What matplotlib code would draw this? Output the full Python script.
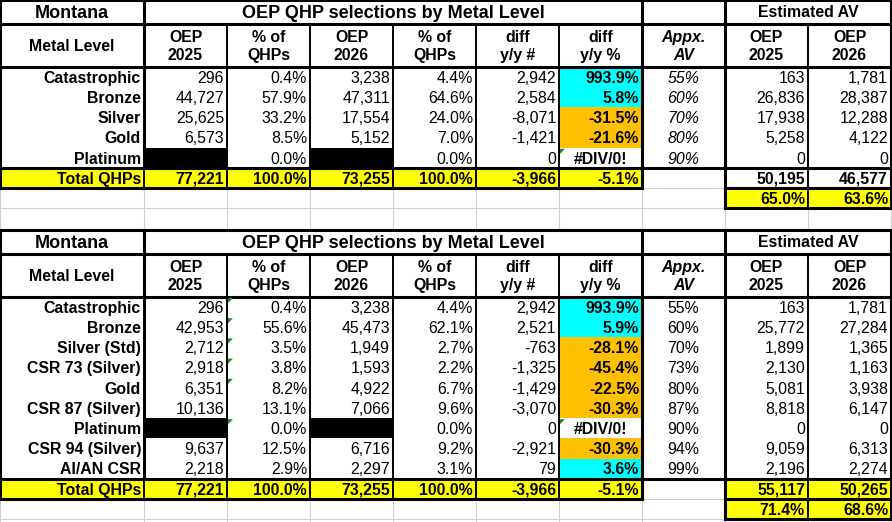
import matplotlib.pyplot as plt
from matplotlib.patches import Rectangle, Polygon

plt.rcParams['font.family'] = ['Liberation Sans', 'DejaVu Sans']

# ---- table 1 : simple metal levels ----
levels_1 = ['Catastrophic', 'Bronze', 'Silver', 'Gold', 'Platinum']
oep25_1 = [296, 44727, 25625, 6573, None]
pct25_1 = [0.4, 57.9, 33.2, 8.5, 0.0]
oep26_1 = [3238, 47311, 17554, 5152, None]
pct26_1 = [4.4, 64.6, 24.0, 7.0, 0.0]
diff_1 = [2942, 2584, -8071, -1421, 0]
diffpct_1 = [993.9, 5.8, -31.5, -21.6, None]
appx_av_1 = [55, 60, 70, 80, 90]
est25_1 = [163, 26836, 17938, 5258, 0]
est26_1 = [1781, 28387, 12288, 4122, 0]
totals_1 = [77221, 100.0, 73255, 100.0, -3966, -5.1, 50195, 46577]
av_share_1 = [65.0, 63.6]

# ---- table 2 : with CSR breakout ----
levels_2 = ['Catastrophic', 'Bronze', 'Silver (Std)', 'CSR 73 (Silver)', 'Gold',
            'CSR 87 (Silver)', 'Platinum', 'CSR 94 (Silver)', 'AI/AN CSR']
oep25_2 = [296, 42953, 2712, 2918, 6351, 10136, None, 9637, 2218]
pct25_2 = [0.4, 55.6, 3.5, 3.8, 8.2, 13.1, 0.0, 12.5, 2.9]
oep26_2 = [3238, 45473, 1949, 1593, 4922, 7066, None, 6716, 2297]
pct26_2 = [4.4, 62.1, 2.7, 2.2, 6.7, 9.6, 0.0, 9.2, 3.1]
diff_2 = [2942, 2521, -763, -1325, -1429, -3070, 0, -2921, 79]
diffpct_2 = [993.9, 5.9, -28.1, -45.4, -22.5, -30.3, None, -30.3, 3.6]
appx_av_2 = [55, 60, 70, 73, 80, 87, 90, 94, 99]
est25_2 = [163, 25772, 1899, 2130, 5081, 8818, 0, 9059, 2196]
est26_2 = [1781, 27284, 1365, 1163, 3938, 6147, 0, 6313, 2274]
totals_2 = [77221, 100.0, 73255, 100.0, -3966, -5.1, 55117, 50265]
av_share_2 = [71.4, 68.6]

header_top = ['OEP', '% of', 'OEP', '% of', 'diff', 'diff', 'Appx.', 'OEP', 'OEP']
header_bot = ['2025', 'QHPs', '2026', 'QHPs', 'y/y #', 'y/y %', 'AV', '2025', '2026']

col_x = [0, 144, 227, 310, 393, 476, 559, 642, 725, 808, 891]
TITLE_H = 23.5
HEAD_H = 43.5
ROW_H = 20.2
FS = 11.4
FS_TITLE = 13
PX = 100 / 72

CYAN = '#00FFFF'
ORANGE = '#FFC000'
YELLOW = '#FFFF00'
GRID = '#D0D0D0'
THIN = 1.4
THICK = 2.2

fig = plt.figure(figsize=(8.92, 5.22), dpi=100)
ax = fig.add_axes([0, 0, 1, 1])
ax.set_xlim(0, 892)
ax.set_ylim(522, 0)
ax.axis('off')


def put(x, y_top, h, s, ha='right', bold=False, italic=False, fs=FS):
    yb = y_top + h / 2 + fs * PX * 0.716 / 2
    ax.text(x, yb, s, ha=ha, va='baseline', fontsize=fs,
            fontweight='bold' if bold else 'normal',
            fontstyle='italic' if italic else 'normal', zorder=5)


def cell(col, y_top, s, ha='right', bold=False, italic=False, h=ROW_H):
    x0, x1 = col_x[col], col_x[col + 1]
    if ha == 'right':
        x = x1 - 3
    else:
        x = (x0 + x1) / 2
    put(x, y_top, h, s, ha=ha, bold=bold, italic=italic)


def fill(x0, x1, y0, y1, color):
    ax.add_patch(Rectangle((x0, y0), x1 - x0, y1 - y0, facecolor=color,
                           edgecolor='none', zorder=2))


def hline(y, x0, x1, lw):
    ax.plot([x0, x1], [y, y], color='black', lw=lw, zorder=4,
            solid_capstyle='projecting')


def vline(x, y0, y1, lw):
    ax.plot([x, x], [y0, y1], color='black', lw=lw, zorder=4,
            solid_capstyle='projecting')


def tri(x, y):
    # excel's little green error marker
    ax.add_patch(Polygon([(x + 1, y + 1), (x + 6, y + 1), (x + 1, y + 6)],
                         facecolor='#1F8A1F', edgecolor='none', zorder=6))


def draw_table(y0, levels, o25, p25, o26, p26, d, dp, av, e25, e26,
               totals, share, av_italic, av_total_yellow, pct_flags):
    n = len(levels)
    head = y0 + TITLE_H
    data = head + HEAD_H
    tot = data + n * ROW_H
    extra = tot + ROW_H
    end = extra + ROW_H

    fill(0, 891, y0, tot + ROW_H, 'white')

    # title row
    put(72, y0, TITLE_H, 'Montana', ha='center', bold=True, fs=FS_TITLE)
    put(393, y0, TITLE_H, 'OEP QHP selections by Metal Level', ha='center',
        bold=True, fs=FS_TITLE)
    put(808, y0, TITLE_H, 'Estimated AV', ha='center', bold=True)

    # header row
    put(72, head, HEAD_H, 'Metal Level', ha='center', bold=True)
    for j in range(9):
        xc = (col_x[j + 1] + col_x[j + 2]) / 2
        it = header_top[j] == 'Appx.'
        put(xc, head - 8.7, HEAD_H, header_top[j], ha='center', bold=True, italic=it)
        put(xc, head + 8.7, HEAD_H, header_bot[j], ha='center', bold=True, italic=it)

    # data rows
    for i in range(n):
        yt = data + i * ROW_H
        cell(0, yt, levels[i], bold=True)
        if o25[i] is None:
            fill(col_x[1], col_x[2], yt, yt + ROW_H, 'black')
        else:
            cell(1, yt, f'{o25[i]:,}')
        cell(2, yt, f'{p25[i]:.1f}%')
        if o26[i] is None:
            fill(col_x[3], col_x[4], yt, yt + ROW_H, 'black')
        else:
            cell(3, yt, f'{o26[i]:,}')
        cell(4, yt, f'{p26[i]:.1f}%')
        cell(5, yt, f'{d[i]:,}')
        if dp[i] is None:
            cell(6, yt, '#DIV/0!', ha='center', bold=True)
            tri(col_x[6], yt)
        else:
            fill(col_x[6], col_x[7], yt, yt + ROW_H, CYAN if dp[i] > 0 else ORANGE)
            cell(6, yt, f'{dp[i]:.1f}%', bold=True)
        cell(7, yt, f'{av[i]}%', ha='center', italic=av_italic)
        cell(8, yt, f'{e25[i]:,}')
        cell(9, yt, f'{e26[i]:,}')
        if pct_flags[i]:
            tri(col_x[2], yt)

    # total row
    fill(0, 642, tot, extra, YELLOW)
    if av_total_yellow:
        fill(725, 891, tot, extra, YELLOW)
    cell(0, tot, 'Total QHPs', bold=True)
    cell(1, tot, f'{totals[0]:,}', bold=True)
    cell(2, tot, f'{totals[1]:.1f}%', bold=True)
    cell(3, tot, f'{totals[2]:,}', bold=True)
    cell(4, tot, f'{totals[3]:.1f}%', bold=True)
    cell(5, tot, f'{totals[4]:,}', bold=True)
    cell(6, tot, f'{totals[5]:.1f}%', bold=True)
    cell(8, tot, f'{totals[6]:,}', bold=True)
    cell(9, tot, f'{totals[7]:,}', bold=True)

    # AV share row
    fill(725, 891, extra, end, YELLOW)
    cell(8, extra, f'{share[0]:.1f}%', bold=True)
    cell(9, extra, f'{share[1]:.1f}%', bold=True)

    # borders
    hline(y0, 0, 891, THICK)
    hline(head, 0, 891, THICK)
    for x in [0, 144, 642, 725, 891]:
        vline(x, y0, head, THICK)
    hline(data, 0, 891, THICK)
    thick_cols = {0, 144, 642, 725, 891}
    for x in col_x:
        vline(x, head, tot, THICK if x in thick_cols else THIN)
    hline(tot, 0, 891, THICK)
    for x in col_x:
        if x in (0, 642, 725, 891):
            vline(x, tot, extra, THICK)
        else:
            vline(x, tot, extra, THIN)
    hline(extra, 0, 642, THICK)
    hline(extra, 725, 891, THICK)
    hline(end, 725, 891, THICK)
    vline(725, extra, end, THICK)
    vline(891, extra, end, THICK)
    vline(808, extra, end, THIN)
    return end


# light spreadsheet gridlines behind everything
for x in col_x:
    ax.plot([x, x], [0, 522], color=GRID, lw=0.8, zorder=1)
for y in [188.2, 208.4, 230, 499.0, 519.2]:
    ax.plot([0, 892], [y, y], color=GRID, lw=0.8, zorder=1)

flags_1 = [False] * 5
flags_2 = [True, True, True, True, True, False, True, False, False]

draw_table(0, levels_1, oep25_1, pct25_1, oep26_1, pct26_1, diff_1, diffpct_1,
           appx_av_1, est25_1, est26_1, totals_1, av_share_1, True, False, flags_1)
draw_table(230, levels_2, oep25_2, pct25_2, oep26_2, pct26_2, diff_2, diffpct_2,
           appx_av_2, est25_2, est26_2, totals_2, av_share_2, False, True, flags_2)

fig.savefig('out.png', dpi=100)
